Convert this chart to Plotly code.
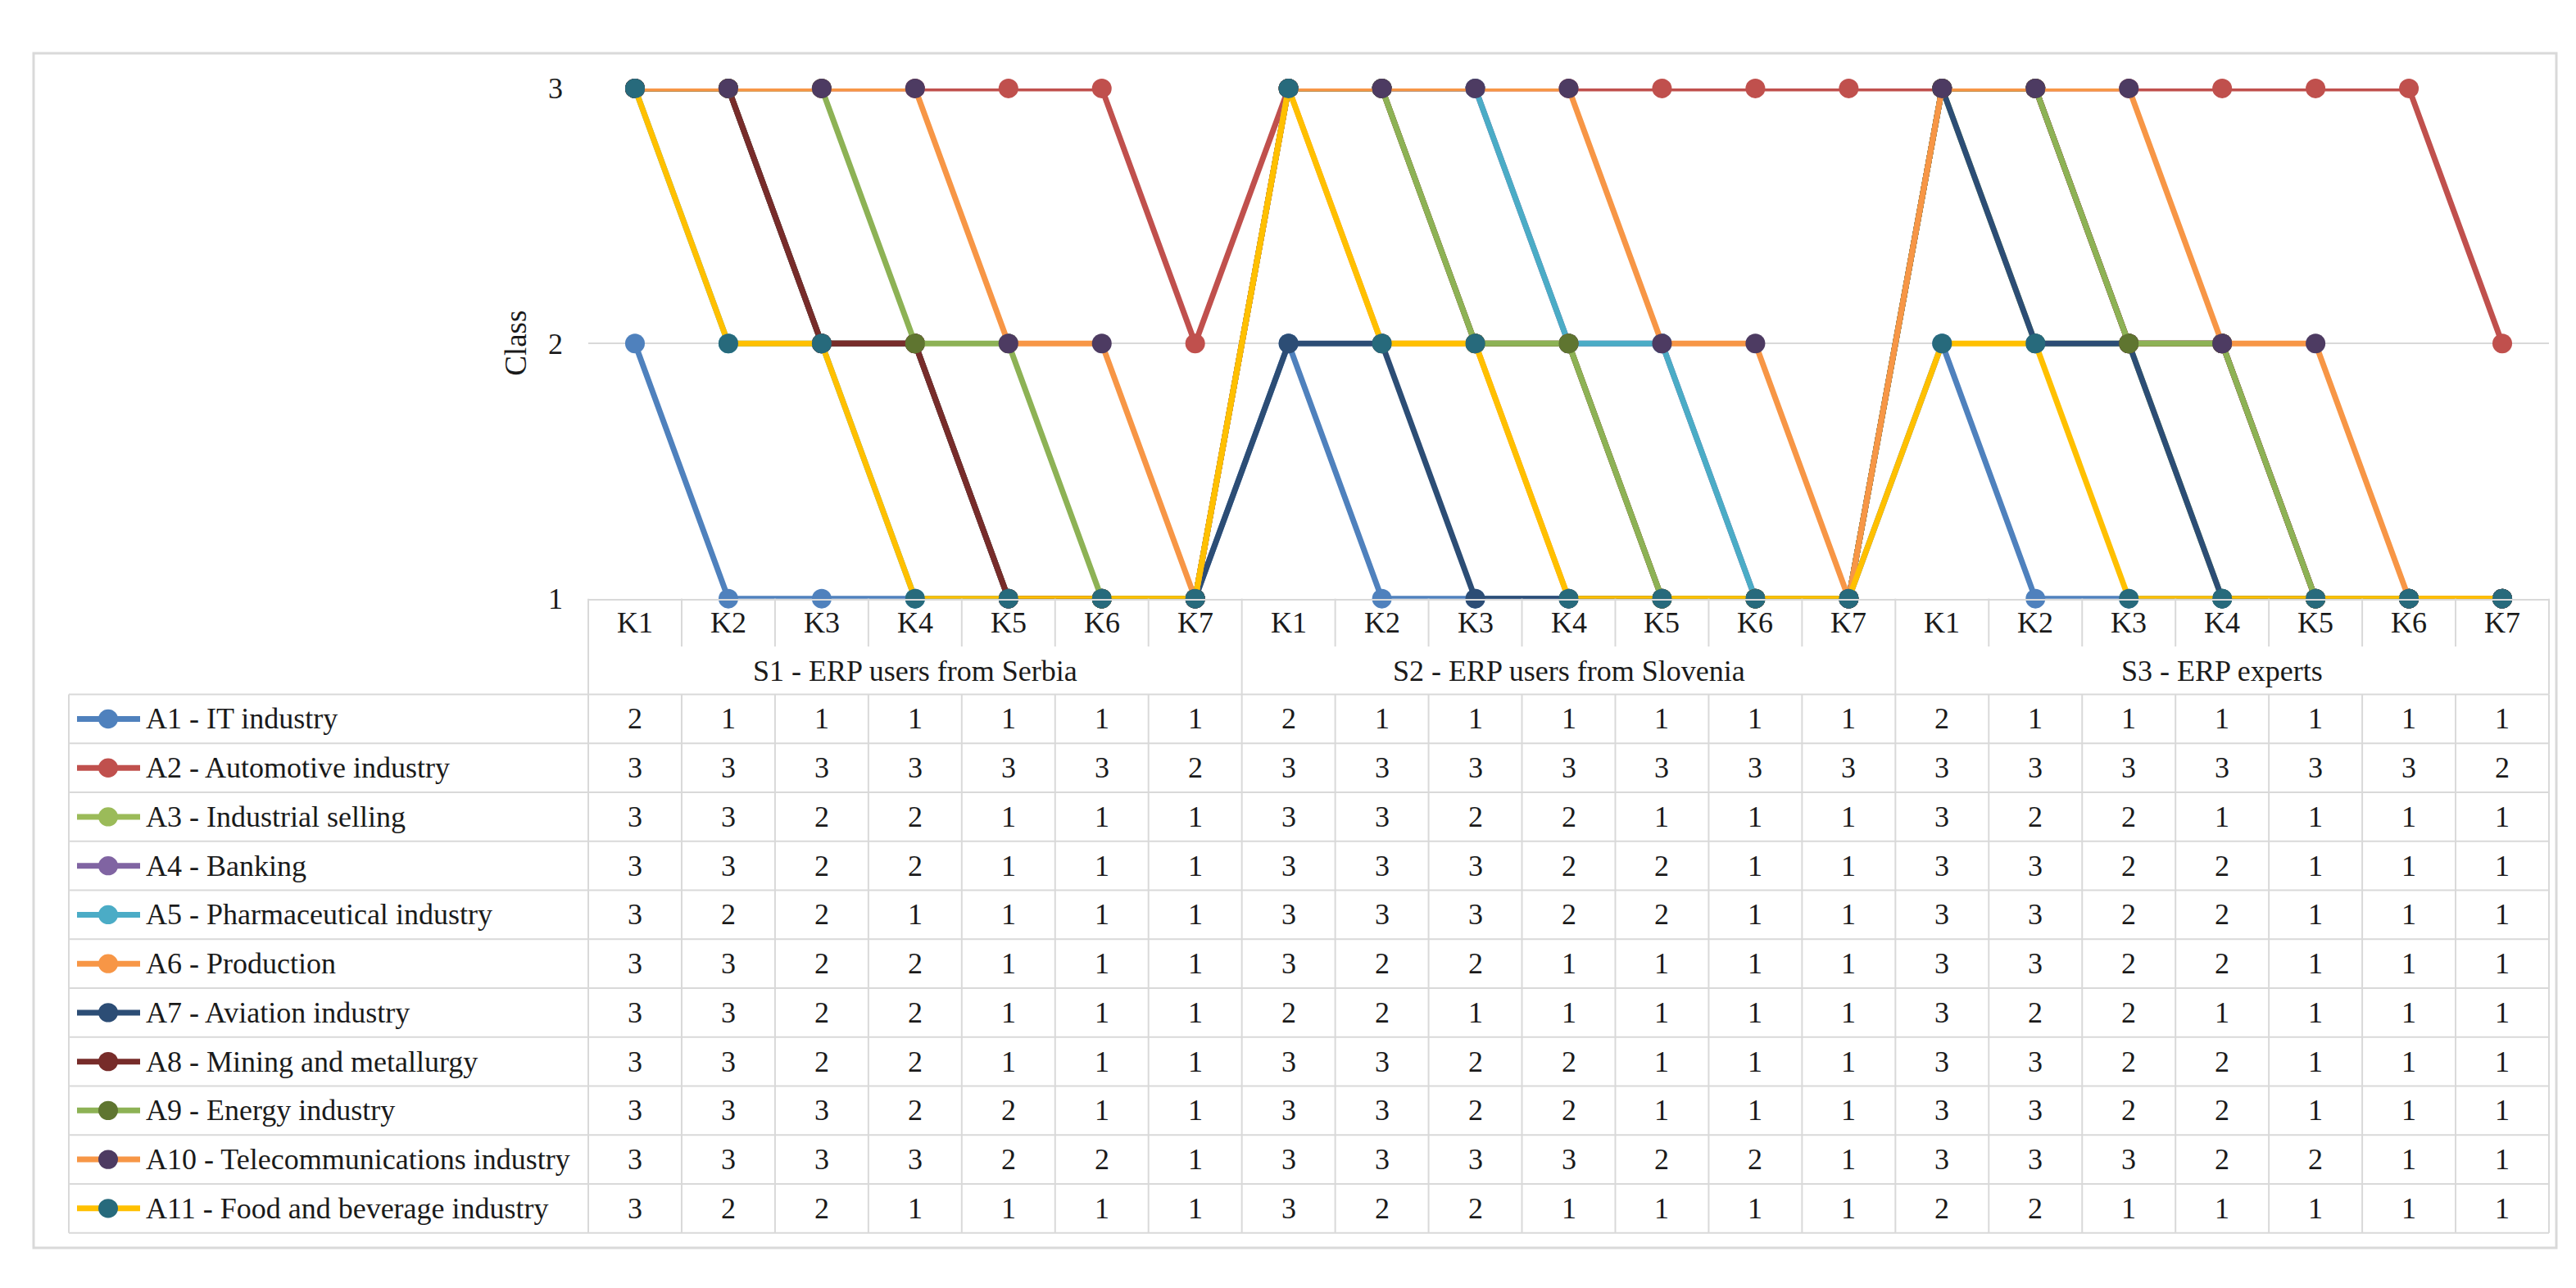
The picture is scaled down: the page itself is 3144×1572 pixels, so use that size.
import plotly.graph_objects as go

W, H = 3144, 1572

groups = ["S1 - ERP users from Serbia", "S2 - ERP users from Slovenia", "S3 - ERP experts"]
criteria = ["K1", "K2", "K3", "K4", "K5", "K6", "K7"]
y_ticks = [1, 2, 3]

names = [
    "A1 - IT industry",
    "A2 - Automotive industry",
    "A3 - Industrial selling",
    "A4 - Banking",
    "A5 - Pharmaceutical industry",
    "A6 - Production",
    "A7 - Aviation industry",
    "A8 - Mining and metallurgy",
    "A9 - Energy industry",
    "A10 - Telecommunications industry",
    "A11 - Food and beverage industry",
]

# values per alternative: S1 K1..K7, S2 K1..K7, S3 K1..K7
a1 = [2, 1, 1, 1, 1, 1, 1, 2, 1, 1, 1, 1, 1, 1, 2, 1, 1, 1, 1, 1, 1]
a2 = [3, 3, 3, 3, 3, 3, 2, 3, 3, 3, 3, 3, 3, 3, 3, 3, 3, 3, 3, 3, 2]
a3 = [3, 3, 2, 2, 1, 1, 1, 3, 3, 2, 2, 1, 1, 1, 3, 2, 2, 1, 1, 1, 1]
a4 = [3, 3, 2, 2, 1, 1, 1, 3, 3, 3, 2, 2, 1, 1, 3, 3, 2, 2, 1, 1, 1]
a5 = [3, 2, 2, 1, 1, 1, 1, 3, 3, 3, 2, 2, 1, 1, 3, 3, 2, 2, 1, 1, 1]
a6 = [3, 3, 2, 2, 1, 1, 1, 3, 2, 2, 1, 1, 1, 1, 3, 3, 2, 2, 1, 1, 1]
a7 = [3, 3, 2, 2, 1, 1, 1, 2, 2, 1, 1, 1, 1, 1, 3, 2, 2, 1, 1, 1, 1]
a8 = [3, 3, 2, 2, 1, 1, 1, 3, 3, 2, 2, 1, 1, 1, 3, 3, 2, 2, 1, 1, 1]
a9 = [3, 3, 3, 2, 2, 1, 1, 3, 3, 2, 2, 1, 1, 1, 3, 3, 2, 2, 1, 1, 1]
a10 = [3, 3, 3, 3, 2, 2, 1, 3, 3, 3, 3, 2, 2, 1, 3, 3, 3, 2, 2, 1, 1]
a11 = [3, 2, 2, 1, 1, 1, 1, 3, 2, 2, 1, 1, 1, 1, 2, 2, 1, 1, 1, 1, 1]
series = [a1, a2, a3, a4, a5, a6, a7, a8, a9, a10, a11]

line_colors = ["#4F81BD", "#C0504D", "#9BBB59", "#8064A2", "#4BACC6", "#F79646",
               "#2C4D75", "#772C2A", "#8DB255", "#F79646", "#FFC000"]
marker_colors = ["#4F81BD", "#C0504D", "#9BBB59", "#8064A2", "#4BACC6", "#F79646",
                 "#2C4D75", "#772C2A", "#5F7530", "#4D3B62", "#276A7C"]

FONT = "Liberation Serif"
TXT = "#1a1a1a"
GRID = "#d9d9d9"
FS = 36

x_left, x_right = 710, 3103
y_top, y_axis = 83, 722
hdr_bottom = 842
row_h = 61.3
tab_left = 76
n_cols = len(groups) * len(criteria)
col_w = (x_right - x_left) / n_cols


def px(x):
    return x / W


def py(y):
    return 1 - y / H


def label(x, y, text, xref="paper", xanchor="center", **kw):
    return dict(x=x, xref=xref, y=y, yref="paper", text=text, showarrow=False,
                xanchor=xanchor, yanchor="middle",
                font=dict(family=FONT, size=kw.pop("size", FS), color=TXT), **kw)


xs = list(range(n_cols))

fig = go.Figure()
for i, vals in enumerate(series):
    fig.add_trace(go.Scatter(
        x=xs, y=vals, mode="lines+markers", name=names[i],
        line=dict(color=line_colors[i], width=7),
        marker=dict(color=marker_colors[i], size=24),
        cliponaxis=False, showlegend=False,
    ))

shapes = []
annotations = []

# outer chart border
shapes.append(dict(type="rect", xref="paper", yref="paper",
                   x0=px(33), x1=px(3112), y0=py(1535), y1=py(39),
                   line=dict(color=GRID, width=3)))

# header: criteria labels and group labels
for g, gname in enumerate(groups):
    gx0 = x_left + g * len(criteria) * col_w
    for k, kname in enumerate(criteria):
        idx = g * len(criteria) + k
        annotations.append(label(idx, py(752), kname, xref="x"))
        if k > 0:
            xl = x_left + idx * col_w
            shapes.append(dict(type="line", xref="paper", yref="paper",
                               x0=px(xl), x1=px(xl), y0=py(y_axis), y1=py(782),
                               line=dict(color=GRID, width=2)))
    annotations.append(label(g * len(criteria) + 3, py(813), gname, xref="x"))
    shapes.append(dict(type="line", xref="paper", yref="paper",
                       x0=px(gx0), x1=px(gx0), y0=py(y_axis), y1=py(hdr_bottom),
                       line=dict(color=GRID, width=2)))
shapes.append(dict(type="line", xref="paper", yref="paper",
                   x0=px(x_right), x1=px(x_right), y0=py(y_axis), y1=py(hdr_bottom),
                   line=dict(color=GRID, width=2)))

# data table
tab_bottom = hdr_bottom + row_h * len(series)
for r in range(len(series) + 1):
    yy = hdr_bottom + r * row_h
    shapes.append(dict(type="line", xref="paper", yref="paper",
                       x0=px(tab_left), x1=px(x_right), y0=py(yy), y1=py(yy),
                       line=dict(color=GRID, width=2)))
for c in range(n_cols + 1):
    xl = x_left + c * col_w
    shapes.append(dict(type="line", xref="paper", yref="paper",
                       x0=px(xl), x1=px(xl), y0=py(hdr_bottom), y1=py(tab_bottom),
                       line=dict(color=GRID, width=2)))
shapes.append(dict(type="line", xref="paper", yref="paper",
                   x0=px(tab_left), x1=px(tab_left), y0=py(hdr_bottom), y1=py(tab_bottom),
                   line=dict(color=GRID, width=2)))

for i, vals in enumerate(series):
    yc = hdr_bottom + (i + 0.5) * row_h
    # legend key
    shapes.append(dict(type="line", xref="paper", yref="paper",
                       x0=px(86), x1=px(163), y0=py(yc), y1=py(yc),
                       line=dict(color=line_colors[i], width=7)))
    shapes.append(dict(type="circle", xref="paper", yref="paper",
                       x0=px(124 - 12), x1=px(124 + 12), y0=py(yc + 12), y1=py(yc - 12),
                       fillcolor=marker_colors[i], line=dict(width=0)))
    annotations.append(label(px(168), py(yc), names[i], xanchor="left"))
    for j, v in enumerate(vals):
        annotations.append(label(j, py(yc), str(v), xref="x"))

annotations.append(label(px(622), py(402), "Class", textangle=-90, size=FS + 1))

fig.update_layout(
    width=W, height=H,
    margin=dict(l=0, r=0, t=0, b=0),
    paper_bgcolor="white", plot_bgcolor="white",
    xaxis=dict(domain=[px(x_left), px(x_right)], range=[-0.5, n_cols - 0.5],
               showticklabels=False, showgrid=False, zeroline=False,
               showline=True, linecolor=GRID, linewidth=2),
    yaxis=dict(domain=[py(y_axis), py(y_top)], range=[1, 3], tickvals=y_ticks,
               showgrid=True, gridcolor=GRID, gridwidth=2, zeroline=False,
               showline=False, ticklabelstandoff=30,
               tickfont=dict(family=FONT, size=FS, color=TXT)),
    shapes=shapes,
    annotations=annotations,
)

fig.write_html("out.html")
